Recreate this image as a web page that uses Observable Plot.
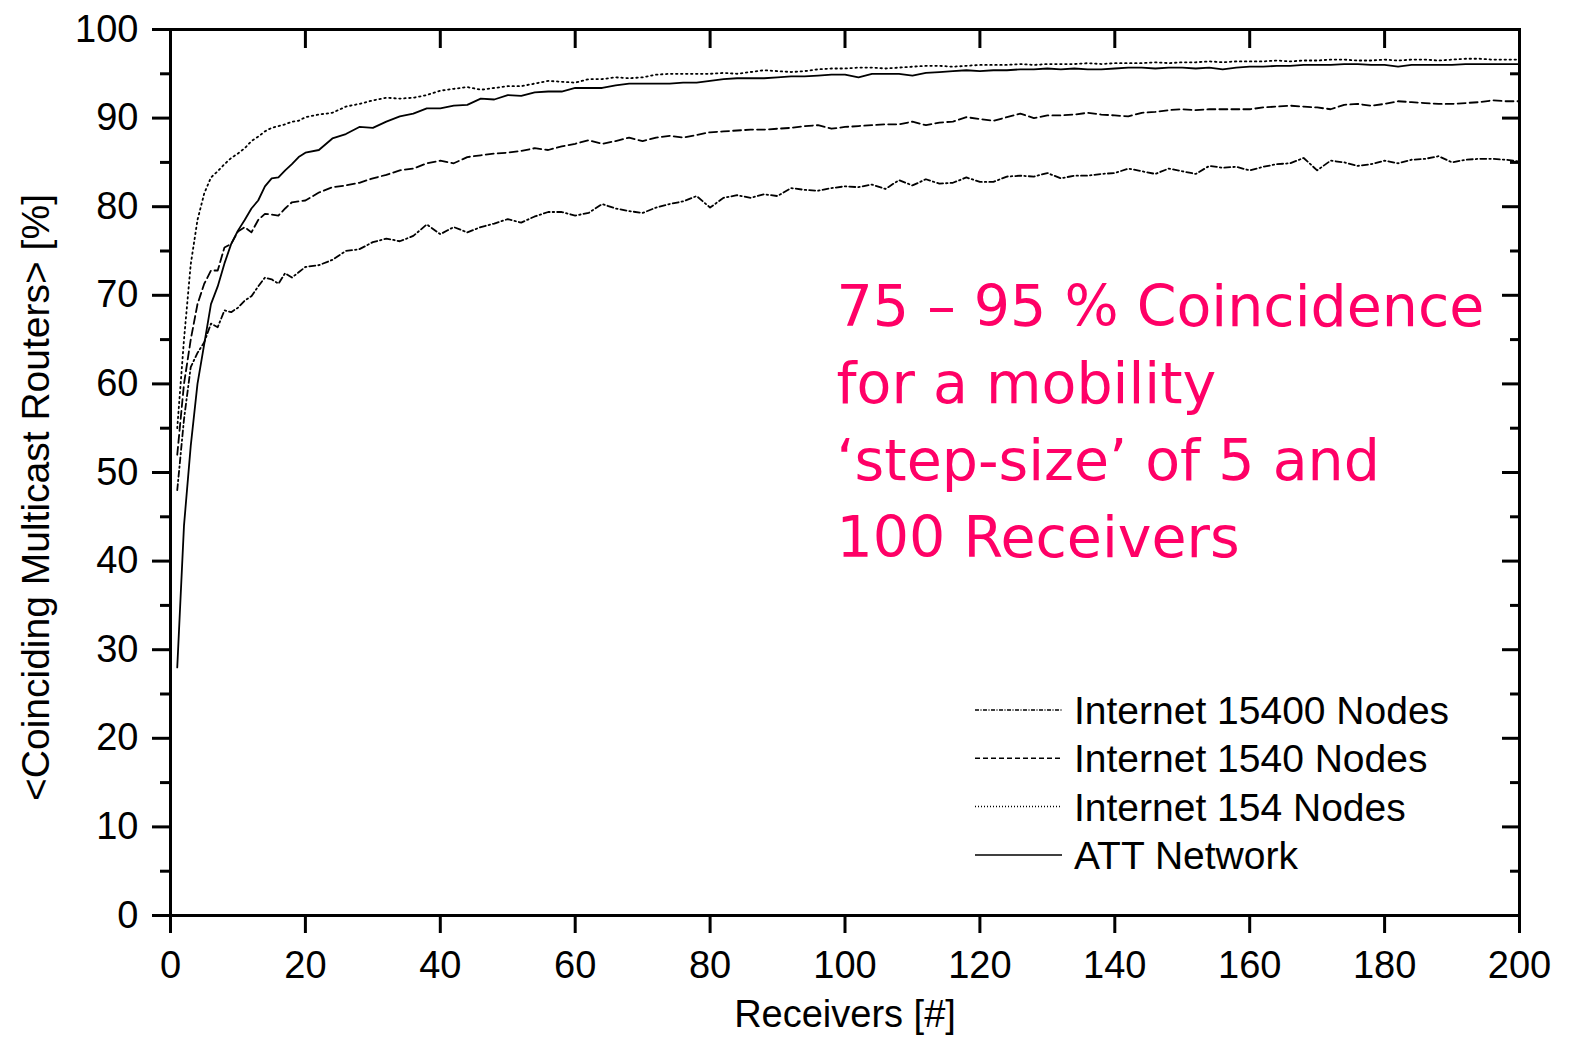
<!DOCTYPE html>
<html><head><meta charset="utf-8">
<script src="https://cdn.jsdelivr.net/npm/d3@7"></script>
<script src="https://cdn.jsdelivr.net/npm/@observablehq/plot@0.6"></script>
<style>body{margin:0;background:#fff}</style>
</head><body><div id="chart"></div>
<script>
// ---- data ----
const receivers = [1,2,3,4,5,6,7,8,9,10,11,12,13,14,15,16,17,18,19,20,
  22,24,26,28,30,32,34,36,38,40,42,44,46,48,50,52,54,56,58,60,
  62,64,66,68,70,72,74,76,78,80,82,84,86,88,90,92,94,96,98,100,
  102,104,106,108,110,112,114,116,118,120,122,124,126,128,130,132,134,136,138,140,
  142,144,146,148,150,152,154,156,158,160,162,164,166,168,170,172,174,176,178,180,
  182,184,186,188,190,192,194,196,198,200];

const seriesNames = ["Internet 15400 Nodes", "Internet 1540 Nodes", "Internet 154 Nodes", "ATT Network"];

const internet15400 = [48,56,61.9,63.5,64.7,66.8,66.4,68.3,68.1,68.6,69.4,69.9,71.0,72.0,71.8,71.3,72.5,72.0,72.6,73.2,
  73.4,74.0,75.0,75.2,76.0,76.4,76.1,76.7,78.0,76.9,
  77.7,77.1,77.7,78.1,78.6,78.2,78.9,79.4,79.4,79.0,
  79.3,80.3,79.8,79.5,79.3,79.9,80.3,80.6,81.2,79.9,
  81.0,81.3,81.0,81.4,81.2,82.1,81.9,81.8,82.1,82.3,
  82.2,82.5,82.0,83.0,82.4,83.1,82.6,82.7,83.3,82.8,
  82.8,83.4,83.5,83.4,83.8,83.2,83.5,83.5,83.7,83.8,
  84.3,84.0,83.7,84.3,84.0,83.7,84.6,84.4,84.5,84.1,
  84.5,84.8,84.9,85.5,84.1,85.2,85.0,84.6,84.8,85.2,
  84.9,85.3,85.4,85.7,85.0,85.3,85.4,85.4,85.3,85.1];

const internet1540 = [52,60,65,69,71.3,72.8,72.8,75.4,75.8,77.2,77.7,77.1,78.5,79.2,79.1,79.0,79.8,80.5,80.6,80.7,
  81.6,82.2,82.4,82.7,83.2,83.6,84.1,84.3,84.9,85.2,
  84.9,85.6,85.8,86.0,86.1,86.3,86.6,86.4,86.8,87.1,
  87.5,87.1,87.4,87.8,87.4,87.8,88.0,87.8,88.1,88.4,
  88.5,88.6,88.7,88.7,88.8,88.9,89.1,89.2,88.8,89.0,
  89.1,89.2,89.3,89.3,89.6,89.2,89.5,89.6,90.1,89.9,
  89.7,90.1,90.5,90.0,90.3,90.3,90.4,90.6,90.4,90.3,
  90.2,90.6,90.7,90.9,91.0,90.9,91.0,91.0,91.0,91.0,
  91.2,91.3,91.4,91.3,91.2,91.0,91.5,91.6,91.4,91.6,
  91.9,91.8,91.7,91.6,91.6,91.7,91.8,92.0,91.9,91.9];

const internet154 = [55,65,73.5,78.5,81.5,83.3,84.0,84.8,85.5,86.0,86.6,87.4,87.9,88.5,88.9,89.1,89.3,89.6,89.7,90.1,
  90.4,90.6,91.3,91.6,92.0,92.3,92.2,92.3,92.6,93.1,
  93.3,93.5,93.2,93.4,93.6,93.6,93.9,94.2,94.1,94.0,
  94.4,94.4,94.6,94.5,94.6,94.9,95.0,95.0,95.0,95.0,
  95.1,95.0,95.2,95.4,95.3,95.2,95.3,95.5,95.6,95.6,
  95.7,95.7,95.6,95.7,95.8,95.9,95.9,95.8,95.9,96.0,
  96.0,96.0,96.1,96.0,96.1,96.1,96.1,96.2,96.1,96.2,
  96.2,96.2,96.3,96.2,96.3,96.3,96.4,96.3,96.4,96.4,
  96.4,96.5,96.4,96.5,96.5,96.6,96.6,96.5,96.5,96.6,
  96.5,96.6,96.6,96.5,96.6,96.7,96.7,96.6,96.6,96.6];

const attNetwork = [28,44,53,60,64.5,69,71,73.6,75.8,77.3,78.5,79.8,80.7,82.3,83.2,83.3,84.1,84.8,85.6,86.1,
  86.4,87.7,88.2,89.0,88.9,89.6,90.2,90.5,91.1,91.1,
  91.4,91.5,92.2,92.1,92.6,92.5,92.9,93.0,93.0,93.4,
  93.4,93.4,93.7,93.9,93.9,93.9,93.9,94.0,94.0,94.2,
  94.4,94.5,94.5,94.5,94.6,94.7,94.7,94.8,94.9,94.9,
  94.6,95.0,95.0,95.0,94.8,95.1,95.2,95.3,95.4,95.3,
  95.4,95.4,95.5,95.5,95.6,95.5,95.6,95.5,95.5,95.6,
  95.7,95.7,95.6,95.7,95.7,95.6,95.7,95.5,95.7,95.8,
  95.8,95.9,95.9,96.0,96.0,96.0,96.1,96.1,96.0,96.0,
  95.8,96.0,96.0,96.0,96.0,96.1,96.1,96.1,96.1,96.1];

const xTicks = [0,20,40,60,80,100,120,140,160,180,200];
const yTicks = [0,10,20,30,40,50,60,70,80,90,100];
const yMinorTicks = [5,15,25,35,45,55,65,75,85,95];

const annotation = "75 – 95 % Coincidence\nfor a mobility\n‘step-size’ of 5 and\n100 Receivers";
const xLabel = "Receivers [#]";
const yLabel = "<Coinciding Multicast Routers> [%]";

// ---- styles ----
const dashes = ["6,3,1.5,3", "8,4", "1.5,3.5", null];
const legendDashes = ["4,1.5,1,1.5", "5,3", "1,2", null];

const allValues = [internet15400, internet1540, internet154, attNetwork];
const rows = [];
seriesNames.forEach((name, i) => receivers.forEach((r, j) => rows.push({series: name, x: r, y: allValues[i][j]})));

const FONT = "Liberation Sans, Arial, sans-serif";

function legendMark(index, scales, values, dim) {
  const g = d3.create("svg:g").attr("font-family", FONT).attr("font-size", 39).attr("text-anchor", "start");
  const x0 = dim.marginLeft + 805, x1 = dim.marginLeft + 892, tx = dim.marginLeft + 904;
  const y0 = dim.marginTop + 681, step = 48.3;
  seriesNames.forEach((name, i) => {
    const y = y0 + i * step;
    g.append("line").attr("x1", x0).attr("x2", x1).attr("y1", y).attr("y2", y)
      .attr("stroke", "black").attr("stroke-width", 1.5)
      .attr("stroke-dasharray", legendDashes[i]);
    g.append("text").attr("x", tx).attr("y", y).attr("dy", "0.36em").attr("fill", "black")
      .attr("text-anchor", "start").text(name);
  });
  return g.node();
}

const chart = Plot.plot({
  width: 1569,
  height: 1037,
  marginLeft: 170,
  marginRight: 50,
  marginTop: 29,
  marginBottom: 122,
  style: {fontFamily: FONT, fontSize: "38px", color: "black", background: "white"},
  x: {domain: [0, 200]},
  y: {domain: [0, 100]},
  marks: [
    // data lines
    ...seriesNames.map((name, i) => Plot.line(rows.filter(d => d.series === name), {
      x: "x", y: "y", stroke: "black", strokeWidth: 1.8, strokeDasharray: dashes[i]
    })),
    // axes
    Plot.axisX({anchor: "bottom", ticks: xTicks, tickSize: 18, tickPadding: 18, strokeWidth: 3, fontSize: 38, label: null}),
    Plot.axisX({anchor: "top", ticks: xTicks, tickSize: 18, dy: 18, strokeWidth: 3, tickFormat: () => "", label: null}),
    Plot.axisY({anchor: "left", ticks: yTicks, tickSize: 18, tickPadding: 14, strokeWidth: 3, fontSize: 38, label: null}),
    Plot.axisY({anchor: "left", ticks: yMinorTicks, tickSize: 10, strokeWidth: 3, tickFormat: () => "", label: null}),
    Plot.axisY({anchor: "right", ticks: yTicks, tickSize: 18, dx: -18, strokeWidth: 3, tickFormat: () => "", label: null}),
    Plot.axisY({anchor: "right", ticks: yMinorTicks, tickSize: 10, dx: -10, strokeWidth: 3, tickFormat: () => "", label: null}),
    Plot.frame({stroke: "black", strokeWidth: 3}),
    // axis titles
    Plot.text([xLabel], {frameAnchor: "bottom", text: d => d, textAnchor: "middle", lineAnchor: "middle",
      dy: 99, fontSize: 38, fill: "black"}),
    Plot.text([yLabel], {frameAnchor: "left", text: d => d, textAnchor: "middle", lineAnchor: "middle",
      rotate: -90, dx: -134, dy: 25, fontSize: 39, fill: "black"}),
    // annotation
    Plot.text([annotation], {frameAnchor: "top-left", text: d => d, textAnchor: "start", lineAnchor: "top",
      dx: 666, dy: 242, fontSize: 57, lineHeight: 1.35, fill: "#ff0066",
      fontFamily: "DejaVu Sans, sans-serif"}),
    legendMark
  ]
});

document.getElementById("chart").appendChild(chart);
</script>
</body></html>
